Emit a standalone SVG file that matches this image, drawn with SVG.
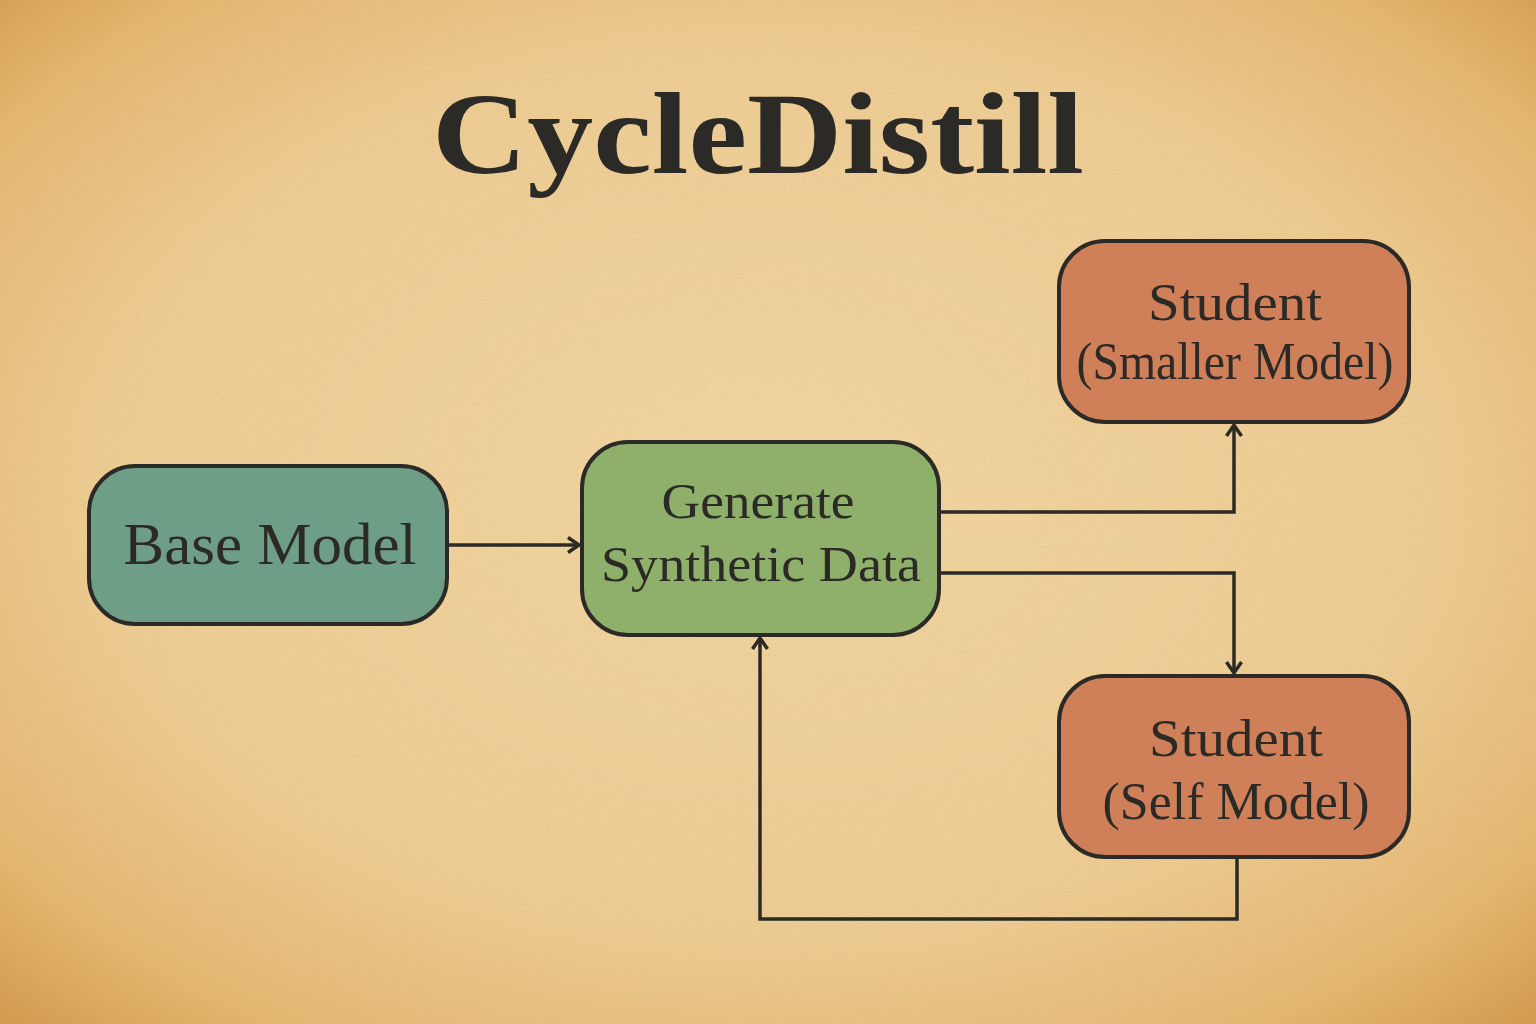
<svg xmlns="http://www.w3.org/2000/svg" width="1536" height="1024" viewBox="0 0 1536 1024">
<style>
.node rect{stroke:#2b2a26;stroke-width:4}
.lbl{font-family:"Liberation Serif","DejaVu Serif",serif;fill:#2b2a26;text-anchor:middle}
.conn{fill:none;stroke:#2b2a26;stroke-width:3.5;stroke-linejoin:miter}
</style>
<defs>
<radialGradient id="bg" cx="50%" cy="48%" r="72%">
<stop offset="0" stop-color="#f2d6a2"/>
<stop offset="0.6" stop-color="#eecd95"/>
<stop offset="0.85" stop-color="#e5b670"/>
<stop offset="1" stop-color="#d39a4c"/>
</radialGradient>
<filter id="noise" x="0" y="0" width="100%" height="100%">
<feTurbulence type="fractalNoise" baseFrequency="0.9" numOctaves="2" seed="3"/>
<feColorMatrix type="matrix" values="0 0 0 0 0.55  0 0 0 0 0.38  0 0 0 0 0.15  0 0 0 1.2 -0.45"/>
</filter>
<marker id="arr" markerUnits="userSpaceOnUse" markerWidth="22" markerHeight="22" refX="14" refY="9" orient="auto">
<path d="M3,1.5 L14,9 L3,16.5" fill="none" stroke="#2b2a26" stroke-width="3.5"/>
</marker>
</defs>
<rect width="1536" height="1024" fill="url(#bg)"/>
<rect width="1536" height="1024" filter="url(#noise)" opacity="0.4"/>

<text class="lbl" x="758" y="173" font-size="116" font-weight="bold" textLength="652" lengthAdjust="spacingAndGlyphs">CycleDistill</text>

<g id="connectors">
<path class="conn" d="M447,545 L579,545" marker-end="url(#arr)"/>
<path class="conn" d="M939,512 L1234,512 L1234,425" marker-end="url(#arr)"/>
<path class="conn" d="M939,573 L1234,573 L1234,673" marker-end="url(#arr)"/>
<path class="conn" d="M1237,857 L1237,919 L760,919 L760,638" marker-end="url(#arr)"/>
</g>

<g id="base-model" class="node">
<rect x="89" y="466" width="358" height="158" rx="46" fill="#6f9e86"/>
<text class="lbl" x="270" y="564" font-size="60" textLength="293" lengthAdjust="spacingAndGlyphs">Base Model</text>
</g>

<g id="generate" class="node">
<rect x="582" y="442" width="357" height="193" rx="46" fill="#8fb06a"/>
<text class="lbl" x="758" y="518" font-size="50" textLength="193" lengthAdjust="spacingAndGlyphs">Generate</text>
<text class="lbl" x="761" y="581" font-size="50" textLength="320" lengthAdjust="spacingAndGlyphs">Synthetic Data</text>
</g>

<g id="student-smaller" class="node">
<rect x="1059" y="241" width="350" height="181" rx="46" fill="#cf8059"/>
<text class="lbl" x="1235" y="320" font-size="52" textLength="174" lengthAdjust="spacingAndGlyphs">Student</text>
<text class="lbl" x="1235" y="379" font-size="52" textLength="317" lengthAdjust="spacingAndGlyphs">(Smaller Model)</text>
</g>

<g id="student-self" class="node">
<rect x="1059" y="676" width="350" height="181" rx="46" fill="#cf8059"/>
<text class="lbl" x="1236" y="756" font-size="52" textLength="174" lengthAdjust="spacingAndGlyphs">Student</text>
<text class="lbl" x="1236" y="819" font-size="52" textLength="267" lengthAdjust="spacingAndGlyphs">(Self Model)</text>
</g>
</svg>
